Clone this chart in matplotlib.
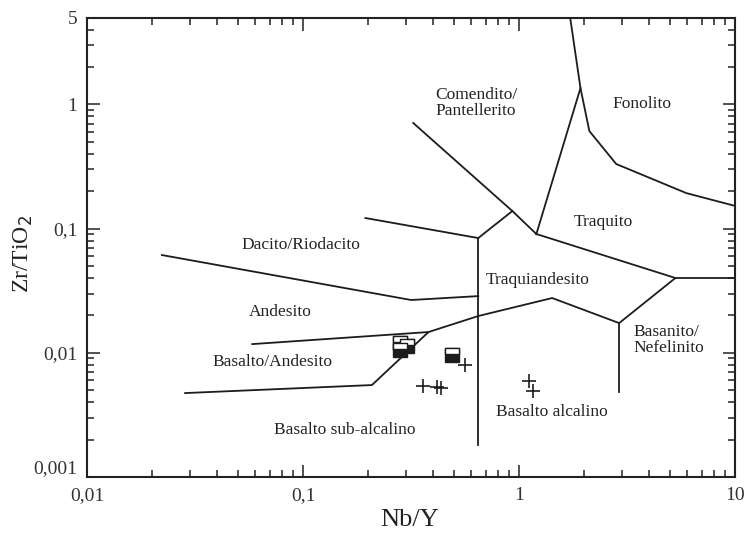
import matplotlib
matplotlib.use("Agg")
import matplotlib.pyplot as plt
from matplotlib.ticker import LogLocator, NullFormatter

plt.rcParams["font.family"] = ["Liberation Serif", "DejaVu Serif"]

# Winchester & Floyd (1977) field boundaries, Nb/Y vs Zr/TiO2
BOUNDARIES = [
    ([0.0222, 0.316, 0.646], [0.0612, 0.0266, 0.0286]),            # dacite / andesite
    ([0.194, 0.646], [0.1216, 0.0839]),                             # rhyodacite top
    ([0.646, 0.646], [0.0839, 0.00181]),                            # subalkaline / alkaline
    ([0.0581, 0.380], [0.01175, 0.01469]),                          # andesite / basalt-andesite
    ([0.0284, 0.208, 0.380, 0.646, 1.42, 2.90, 5.28, 10.0],
     [0.00474, 0.00550, 0.01469, 0.01977, 0.0276, 0.01734, 0.0400, 0.0400]),
    ([2.90, 2.90], [0.01734, 0.00483]),                             # basanite
    ([0.323, 0.929, 1.20], [0.708, 0.1384, 0.0904]),                # comendite
    ([0.929, 0.646], [0.1384, 0.0839]),
    ([1.20, 1.92, 1.72], [0.0904, 1.352, 5.0]),                     # phonolite left
    ([1.92, 2.11, 2.81, 5.93, 10.0], [1.352, 0.610, 0.331, 0.193, 0.152]),
    ([1.20, 5.28], [0.0904, 0.0400]),                               # trachyte bottom
]

# samples
sq_x = [0.281, 0.303, 0.281, 0.490]
sq_y = [0.0120, 0.0113, 0.0105, 0.0096]
plus_x = [0.360, 0.415, 0.432, 0.562, 1.112, 1.161]
plus_y = [0.00540, 0.00530, 0.00520, 0.00796, 0.00592, 0.00492]

FIELDS = [
    ("Comendito/\nPantellerito", 0.408, 1.025, "left"),
    ("Fonolito", 3.71, 1.0, "center"),
    ("Traquito", 2.45, 0.113, "center"),
    ("Dacito/Riodacito", 0.098, 0.0737, "center"),
    ("Traquiandesito", 1.22, 0.0385, "center"),
    ("Andesito", 0.0784, 0.0213, "center"),
    ("Basalto/Andesito", 0.0718, 0.00842, "center"),
    ("Basanito/\nNefelinito", 3.37, 0.01265, "left"),
    ("Basalto sub-alcalino", 0.155, 0.00239, "center"),
    ("Basalto alcalino", 1.41, 0.00333, "center"),
]

INK = "#1c1c1c"
# white band across the top of the square symbol
top_band = [(-1, 0.2), (1, 0.2), (1, 1), (-1, 1), (-1, 0.2)]

fig = plt.figure(figsize=(7.45, 5.34), dpi=100)
ax = fig.add_axes([0.117, 0.1067, 0.870, 0.8605])
ax.set_xscale("log")
ax.set_yscale("log")
ax.set_xlim(0.01, 10)
ax.set_ylim(0.001, 5)

for xs, ys in BOUNDARIES:
    ax.plot(xs, ys, color=INK, lw=1.3, solid_joinstyle="miter")

ax.plot(sq_x, sq_y, "s", ms=10.5, color=INK, mec=INK, mew=1.0)
ax.plot(sq_x, sq_y, marker=top_band, ls="none", ms=10.5, mfc="white",
        mec=INK, mew=1.0)
ax.plot(plus_x, plus_y, "+", ms=10, color=INK, mew=1.2)

for txt, x, y, ha in FIELDS:
    ax.text(x, y, txt, fontsize=12.5, ha=ha, va="center", color="#222",
            multialignment="left", linespacing=0.95)

ax.set_xticks([0.01, 0.1, 1, 10])
ax.set_xticklabels(["0,01", "0,1", "1", "10"])
ax.set_yticks([0.001, 0.01, 0.1, 1, 5])
ax.set_yticklabels(["0,001", "0,01", "0,1", "1", "5"])
ax.xaxis.set_minor_locator(LogLocator(base=10, subs=range(2, 10)))
ax.yaxis.set_minor_locator(LogLocator(base=10, subs=range(2, 10)))
ax.xaxis.set_minor_formatter(NullFormatter())
ax.yaxis.set_minor_formatter(NullFormatter())
ax.tick_params(which="both", direction="in", top=True, right=True,
               labelsize=14, labelcolor="#333", color="#222", width=1.1)
ax.tick_params(which="major", length=9, pad=7)
ax.tick_params(which="minor", length=5)
ax.get_yticklabels()[0].set_verticalalignment("bottom")
for s in ax.spines.values():
    s.set_linewidth(1.5)
    s.set_color("#222")

ax.set_xlabel("Nb/Y", fontsize=19, color="#222")
ax.xaxis.label.set_verticalalignment("center")
ax.xaxis.set_label_coords(0.498, -0.094)
ax.set_ylabel("Zr/TiO$_2$", fontsize=17, color="#222")
ax.yaxis.label.set_verticalalignment("center")
ax.yaxis.set_label_coords(-0.099, 0.485)

fig.savefig("out.png", dpi=100)
